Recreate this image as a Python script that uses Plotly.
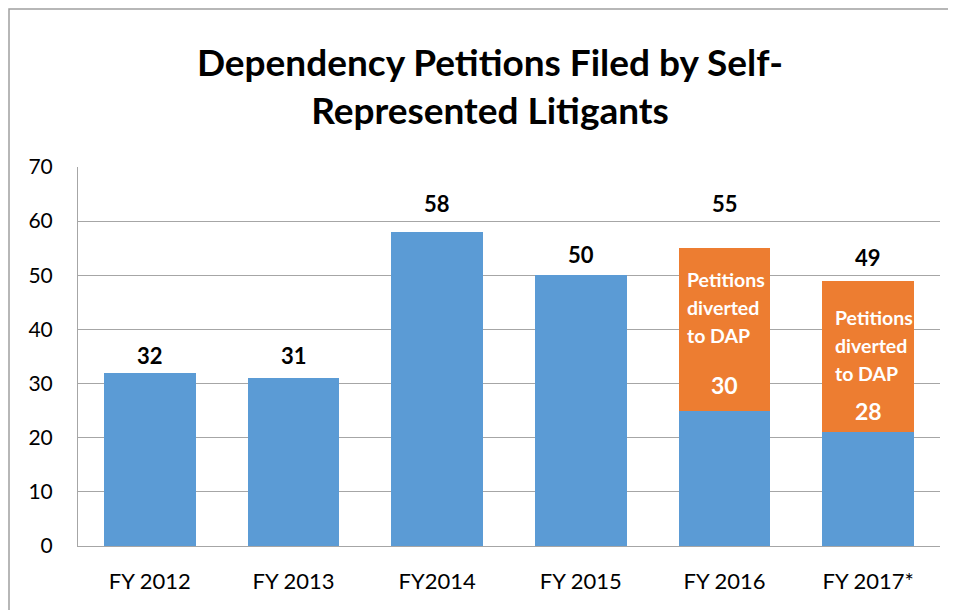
import plotly.graph_objects as go

# ---- data ----
categories = ["FY 2012", "FY 2013", "FY2014", "FY 2015", "FY 2016", "FY 2017*"]
self_rep = [32, 31, 58, 50, 25, 21]
diverted = [0, 0, 0, 0, 30, 28]
totals = [32, 31, 58, 50, 55, 49]
diverted_caption = ["Petitions", "diverted", "to DAP"]
title_text = "Dependency Petitions Filed by Self-<br>Represented Litigants"

# ---- style ----
FONT = "Lato, 'Open Sans', sans-serif"
BLUE = "#5B9BD5"
ORANGE = "#ED7D31"
GRID = "#a6a6a6"
OFF = 8                      # page body margin
W, H = 956 - OFF, 610 - OFF
L, R, T, B = 78 - OFF, 16, 167 - OFF, 64
PW, PH = W - L - R, H - T - B

total_shift = [17, 23, 28, 21, 45, 23]          # px above bar top
caption_shift = {4: (-31, -40), 5: (-37, -35)}  # (first line below top, x from centre)
num_shift = {4: 26, 5: 21}                      # px above bottom of orange part
LINE_STEP = 28

fig = go.Figure()
fig.add_trace(go.Bar(x=categories, y=self_rep, marker=dict(color=BLUE, line=dict(width=0)),
                     name="Self-represented", hoverinfo="skip"))
fig.add_trace(go.Bar(x=categories, y=diverted, marker=dict(color=ORANGE, line=dict(width=0)),
                     name="Diverted to DAP", hoverinfo="skip"))

ann = []
for i, c in enumerate(categories):
    ann.append(dict(x=c, y=totals[i], xref="x", yref="y", text="<b>%d</b>" % totals[i],
                    showarrow=False, yanchor="middle", yshift=total_shift[i],
                    font=dict(family=FONT, size=22, color="black")))
    if diverted[i] > 0:
        top_shift, xs = caption_shift[i]
        for k, line in enumerate(diverted_caption):
            ann.append(dict(x=c, y=totals[i], xref="x", yref="y", text="<b>%s</b>" % line,
                            showarrow=False, xanchor="left", yanchor="middle",
                            xshift=xs, yshift=top_shift - k * LINE_STEP,
                            font=dict(family=FONT, size=19.5, color="white")))
        ann.append(dict(x=c, y=self_rep[i], xref="x", yref="y", text="<b>%d</b>" % diverted[i],
                        showarrow=False, yanchor="middle", yshift=num_shift[i],
                        font=dict(family=FONT, size=23, color="white")))

fig.update_layout(
    width=W, height=H,
    margin=dict(l=L, r=R, t=T, b=B),
    barmode="stack", bargap=0.36,
    showlegend=False,
    paper_bgcolor="white", plot_bgcolor="white",
    title=dict(text="<b>%s</b>" % title_text, x=482 / W, xanchor="center",
               y=1 - 68 / H, yanchor="middle",
               font=dict(family=FONT, size=37, color="black")),
    annotations=ann,
    shapes=[dict(type="rect", xref="paper", yref="paper",
                 x0=(1 - L) / PW, x1=(W + 10 - L) / PW,
                 y0=-(H + 10 - T - PH) / PH, y1=(T + PH - 1) / PH,
                 line=dict(color="#a0a0a0", width=1.5), fillcolor="rgba(0,0,0,0)", layer="below")],
)
fig.update_xaxes(showline=True, linecolor=GRID, linewidth=1, ticks="", showgrid=False,
                 tickfont=dict(family=FONT, size=22, color="black"), ticklabelstandoff=16)
fig.update_yaxes(range=[0, 70], dtick=10, showline=True, linecolor=GRID, linewidth=1,
                 showgrid=True, gridcolor=GRID, gridwidth=1, zeroline=False, ticks="",
                 tickfont=dict(family=FONT, size=21, color="black"), ticklabelstandoff=20)

fig.write_html("out.html")
